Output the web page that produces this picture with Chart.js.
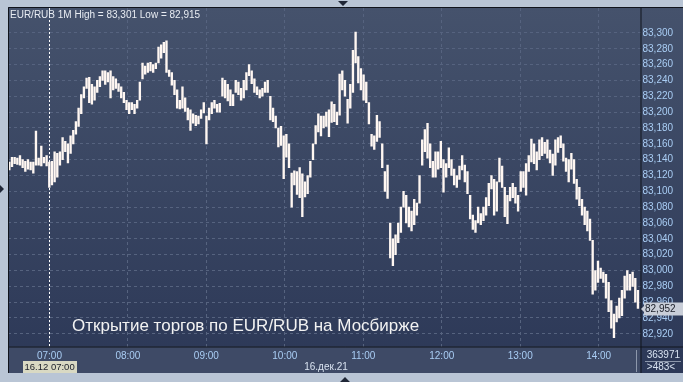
<!DOCTYPE html>
<html>
<head>
<meta charset="utf-8">
<script src="https://cdn.jsdelivr.net/npm/chart.js@4.4.1/dist/chart.umd.min.js"></script>
<style>
  html, body { margin: 0; padding: 0; background: #b9c5d5; overflow: hidden; }
  #wrap { width: 683px; height: 382px; }
</style>
</head>
<body>
<div id="wrap"><canvas id="chart" width="683" height="382"></canvas></div>
<script>
// EUR/RUB 1M, 16.12.21 - bars (low / high per ~2 min)
const lows = [
  83.127, 83.131, 83.135, 83.134, 83.133, 83.130, 83.125, 83.128, 83.127, 83.123,
  83.133, 83.133, 83.132, 83.136, 83.132, 83.105, 83.108, 83.112, 83.118, 83.133,
  83.140, 83.150, 83.136, 83.148, 83.160, 83.172, 83.182, 83.198, 83.218, 83.230,
  83.212, 83.210, 83.215, 83.225, 83.232, 83.240, 83.235, 83.238, 83.218, 83.228,
  83.230, 83.226, 83.218, 83.212, 83.203, 83.198, 83.203, 83.198, 83.205, 83.215,
  83.242, 83.248, 83.250, 83.252, 83.250, 83.255, 83.262, 83.268, 83.275, 83.250,
  83.245, 83.234, 83.222, 83.205, 83.204, 83.205, 83.201, 83.190, 83.177, 83.186,
  83.183, 83.185, 83.192, 83.199, 83.160, 83.190, 83.198, 83.205, 83.200, 83.200,
  83.220, 83.218, 83.214, 83.208, 83.208, 83.225, 83.222, 83.215, 83.218, 83.228,
  83.246, 83.236, 83.225, 83.222, 83.218, 83.220, 83.225, 83.225, 83.190, 83.188,
  83.180, 83.156, 83.158, 83.116, 83.143, 83.130, 83.080, 83.108, 83.096, 83.092,
  83.068, 83.093, 83.097, 83.118, 83.140, 83.160, 83.175, 83.170, 83.180, 83.182,
  83.169, 83.187, 83.188, 83.184, 83.196, 83.228, 83.220, 83.186, 83.205, 83.225,
  83.262, 83.237, 83.228, 83.215, 83.212, 83.185, 83.157, 83.153, 83.163, 83.168,
  83.130, 83.100, 83.091, 83.016, 83.006, 83.020, 83.035, 83.048, 83.080, 83.060,
  83.055, 83.050, 83.058, 83.070, 83.085, 83.133, 83.150, 83.142, 83.130, 83.118,
  83.118, 83.128, 83.130, 83.099, 83.118, 83.130, 83.120, 83.108, 83.105, 83.115,
  83.127, 83.112, 83.097, 83.065, 83.052, 83.048, 83.060, 83.058, 83.063, 83.070,
  83.082, 83.103, 83.070, 83.075, 83.112, 83.105, 83.068, 83.059, 83.088, 83.092,
  83.085, 83.075, 83.100, 83.105, 83.095, 83.125, 83.137, 83.135, 83.127, 83.140,
  83.145, 83.148, 83.142, 83.136, 83.120, 83.133, 83.149, 83.155, 83.138, 83.125,
  83.112, 83.128, 83.110, 83.090, 83.082, 83.070, 83.058, 83.050, 83.038, 82.970,
  82.975, 82.985, 82.990, 82.985, 82.965, 82.948, 82.927, 82.915, 82.935, 82.940,
  82.943, 82.965, 82.975, 82.975, 82.980, 82.960, 82.952
];
const highs = [
  83.137, 83.143, 83.143, 83.142, 83.145, 83.140, 83.138, 83.140, 83.137, 83.137,
  83.176, 83.142, 83.157, 83.143, 83.145, 83.137, 83.138, 83.150, 83.148, 83.150,
  83.168, 83.163, 83.160, 83.170, 83.177, 83.188, 83.205, 83.222, 83.232, 83.243,
  83.244, 83.235, 83.232, 83.240, 83.245, 83.252, 83.252, 83.250, 83.252, 83.245,
  83.242, 83.236, 83.232, 83.225, 83.215, 83.212, 83.212, 83.210, 83.215, 83.238,
  83.262, 83.258, 83.262, 83.263, 83.260, 83.262, 83.282, 83.285, 83.288, 83.290,
  83.253, 83.250, 83.240, 83.228, 83.215, 83.232, 83.218, 83.205, 83.203, 83.198,
  83.196, 83.195, 83.203, 83.212, 83.195, 83.205, 83.212, 83.215, 83.210, 83.211,
  83.243, 83.240, 83.235, 83.228, 83.222, 83.240, 83.238, 83.230, 83.240, 83.250,
  83.260, 83.252, 83.242, 83.232, 83.228, 83.230, 83.238, 83.240, 83.220, 83.205,
  83.195, 83.180, 83.182, 83.170, 83.172, 83.160, 83.123, 83.126, 83.125, 83.130,
  83.122, 83.112, 83.120, 83.138, 83.160, 83.183, 83.198, 83.195, 83.195, 83.200,
  83.203, 83.213, 83.210, 83.200, 83.248, 83.252, 83.240, 83.216, 83.235, 83.278,
  83.301, 83.270, 83.255, 83.247, 83.238, 83.212, 83.172, 83.170, 83.196, 83.188,
  83.160, 83.125, 83.133, 83.060, 83.040, 83.045, 83.060, 83.080, 83.100, 83.095,
  83.080, 83.075, 83.090, 83.085, 83.120, 83.165, 83.178, 83.186, 83.160, 83.138,
  83.150, 83.150, 83.163, 83.140, 83.135, 83.155, 83.140, 83.128, 83.120, 83.132,
  83.145, 83.133, 83.125, 83.095, 83.070, 83.063, 83.080, 83.072, 83.080, 83.092,
  83.110, 83.120, 83.115, 83.112, 83.142, 83.132, 83.105, 83.095, 83.105, 83.110,
  83.105, 83.095, 83.125, 83.125, 83.135, 83.145, 83.166, 83.160, 83.150, 83.165,
  83.168, 83.162, 83.165, 83.152, 83.147, 83.165, 83.168, 83.170, 83.160, 83.142,
  83.140, 83.148, 83.140, 83.115, 83.105, 83.090, 83.080, 83.075, 83.065, 83.038,
  83.000, 83.012, 83.003, 82.998, 82.995, 82.985, 82.962, 82.945, 82.955, 82.965,
  82.975, 82.993, 83.000, 82.995, 82.998, 82.990, 82.975
];

const priceTicks = [82.92, 82.94, 82.96, 82.98, 83.00, 83.02, 83.04, 83.06, 83.08, 83.10,
  83.12, 83.14, 83.16, 83.18, 83.20, 83.22, 83.24, 83.26, 83.28, 83.30];
const hourMinutes = [420, 480, 540, 600, 660, 720, 780, 840];
const hourLabels = ['07:00', '08:00', '09:00', '10:00', '11:00', '12:00', '13:00', '14:00'];

const viewStart = 388.3;   // 06:28
const viewEnd = 872.0;     // 14:32
const barMinutes = 2.037;  // minutes covered by one bar above
const priceMin = 82.904, priceMax = 83.3315;
const lastPrice = 82.952;
const headerText = 'EUR/RUB 1M High = 83,301 Low = 82,915';
const noteText = 'Открытие торгов по EUR/RUB на Мосбирже';

const fmtPrice = v => v.toFixed(3).replace('.', ',');

const chrome = {
  id: 'chrome',
  beforeDraw(chart) {
    const { ctx, chartArea: a } = chart;
    ctx.save();
    ctx.fillStyle = '#b9c5d5';
    ctx.fillRect(0, 0, 683, 382);
    // panel
    let g = ctx.createLinearGradient(0, 7, 0, 373);
    g.addColorStop(0, '#45526c');
    g.addColorStop(1, '#2c3857');
    ctx.fillStyle = g;
    ctx.fillRect(8, 7, 675, 366);
    // bottom axis strip
    ctx.fillStyle = '#3e4a66';
    ctx.fillRect(8, a.bottom, a.right - 8, 373 - a.bottom);
    ctx.restore();
  },
  afterDatasetsDraw(chart) {
    const { ctx, chartArea: a, scales } = chart;
    ctx.save();
    // session open marker
    const xo = Math.round(scales.x.getPixelForValue(420)) + 0.5;
    ctx.strokeStyle = '#ffffff';
    ctx.lineWidth = 1;
    ctx.setLineDash([2, 2]);
    ctx.beginPath();
    ctx.moveTo(xo, a.top);
    ctx.lineTo(xo, a.bottom);
    ctx.stroke();
    ctx.setLineDash([]);

    // borders
    ctx.strokeStyle = '#10141c';
    ctx.beginPath();
    ctx.moveTo(8.5, 7.5); ctx.lineTo(683, 7.5);
    ctx.moveTo(8.5, 7.5); ctx.lineTo(8.5, 373);
    ctx.moveTo(a.right + 0.5, 7.5); ctx.lineTo(a.right + 0.5, 373);
    ctx.moveTo(8.5, a.bottom + 0.5); ctx.lineTo(683, a.bottom + 0.5);
    ctx.stroke();

    // header
    ctx.font = '10px "Liberation Sans", Arial, sans-serif';
    ctx.fillStyle = '#e8ecf2';
    ctx.textBaseline = 'middle';
    ctx.textAlign = 'left';
    ctx.fillText(headerText, 10, 15);

    // note
    ctx.font = '17px "Liberation Sans", Arial, sans-serif';
    ctx.fillStyle = '#f2f2f2';
    ctx.fillText(noteText, 72, 326);

    // last price tag
    const yp = scales.y.getPixelForValue(lastPrice);
    ctx.fillStyle = '#c9ced8';
    ctx.fillRect(644, yp - 6, 39, 13);
    ctx.beginPath();
    ctx.moveTo(641, yp + 0.5); ctx.lineTo(645, yp - 3.5); ctx.lineTo(645, yp + 4.5); ctx.closePath();
    ctx.fill();
    ctx.fillStyle = '#1a1e28';
    ctx.font = '10px "Liberation Sans", Arial, sans-serif';
    ctx.fillText(fmtPrice(lastPrice), 645, yp + 1);

    // bottom strip texts
    ctx.fillStyle = '#d9d9c3';
    ctx.fillRect(23, 361, 54, 12);
    ctx.fillStyle = '#1a1e28';
    ctx.font = '9.5px "Liberation Sans", Arial, sans-serif';
    ctx.fillText('16.12 07:00', 24.5, 367.5);
    ctx.font = '10px "Liberation Sans", Arial, sans-serif';
    ctx.fillStyle = '#d8e2f0';
    ctx.textAlign = 'center';
    ctx.fillText('16.дек.21', 326, 367);
    ctx.textAlign = 'right';
    ctx.fillText('363971', 680, 355);
    ctx.textAlign = 'center';
    ctx.fillText('>483<', 661, 367.5);
    ctx.strokeStyle = '#8c97ab';
    ctx.beginPath();
    ctx.moveTo(645, 361.5); ctx.lineTo(681, 361.5);
    ctx.moveTo(636.5, 350); ctx.lineTo(636.5, 372);
    ctx.stroke();

    // little markers on the frame
    ctx.fillStyle = '#1f2636';
    ctx.beginPath();
    ctx.moveTo(338, 1); ctx.lineTo(348, 1); ctx.lineTo(343, 6); ctx.closePath();
    ctx.moveTo(340, 382); ctx.lineTo(350, 382); ctx.lineTo(345, 377); ctx.closePath();
    ctx.moveTo(0, 185); ctx.lineTo(4, 189); ctx.lineTo(0, 193); ctx.closePath();
    ctx.fill();
    ctx.restore();
  }
};

const bars = lows.map((l, i) => ({ x: viewStart + (i + 0.5) * barMinutes, y: [l, highs[i]] }));

new Chart(document.getElementById('chart'), {
  type: 'bar',
  data: {
    datasets: [{
      data: bars,
      backgroundColor: '#fff7f2',
      borderWidth: 0,
      barThickness: 1.7
    }]
  },
  options: {
    responsive: false,
    animation: false,
    layout: { padding: { left: 8, top: 7.5, right: 0, bottom: 0 } },
    plugins: { legend: { display: false }, tooltip: { enabled: false } },
    scales: {
      x: {
        type: 'linear',
        position: 'bottom',
        offset: false,
        min: viewStart,
        max: viewEnd,
        afterBuildTicks: s => { s.ticks = hourMinutes.map(v => ({ value: v })); },
        afterFit: s => { s.height = 35.5; },
        grid: { color: '#56637f', drawTicks: false, lineWidth: 1, offset: false },
        border: { display: false, dash: [3, 3] },
        ticks: {
          padding: 4,
          color: '#a9cdf4',
          font: { family: '"Liberation Sans", Arial, sans-serif', size: 10 },
          callback: v => hourLabels[hourMinutes.indexOf(v)] || '',
          maxRotation: 0
        }
      },
      y: {
        type: 'linear',
        position: 'right',
        min: priceMin,
        max: priceMax,
        afterBuildTicks: s => { s.ticks = priceTicks.map(v => ({ value: v })); },
        afterFit: s => { s.width = 42.5; },
        grid: { color: '#56637f', drawTicks: false, lineWidth: 1 },
        border: { display: false, dash: [3, 3] },
        ticks: {
          padding: 2,
          color: '#a9cdf4',
          font: { family: '"Liberation Sans", Arial, sans-serif', size: 10 },
          callback: v => fmtPrice(v)
        }
      }
    }
  },
  plugins: [chrome]
});
</script>
</body>
</html>
